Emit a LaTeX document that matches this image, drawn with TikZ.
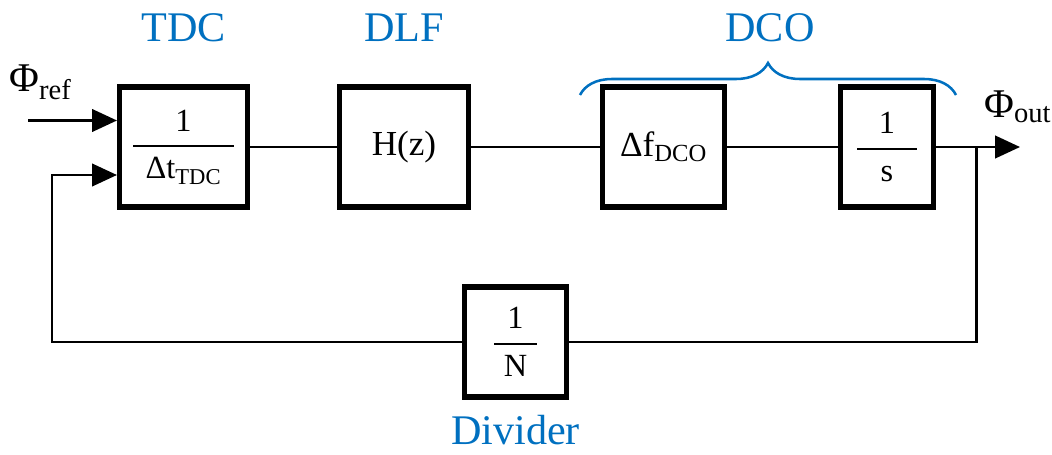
\documentclass[tikz,border=0pt]{standalone}
\usepackage{amsmath}
\usepackage{fontspec}
\setmainfont{Liberation Serif}
\usetikzlibrary{
  arrows.meta,
  positioning,
  calc,
  decorations.pathreplacing
}
\definecolor{pllBlue}{HTML}{0070C0}
% block fraction with fixed bar width
\newcommand{\blkfrac}[3]{$\genfrac{}{}{1.3pt}{0}{\hbox to #3{\hfil #1\hfil}}{\hbox to #3{\hfil #2\hfil}}$}
\tikzset{
  blk/.style={
    draw, line width=3.6pt, inner sep=0pt, align=center,
    font=\fontsize{25}{30}\selectfont
  },
  fracblk/.style={blk, font=\fontsize{23}{28}\selectfont},
  sig/.style={line width=1.8pt, black},
  sigarrow/.style={sig, -{Triangle[length=0.62cm, width=0.56cm]}},
  blklabel/.style={text=pllBlue, font=\fontsize{30}{36}\selectfont, inner sep=0pt},
  phase/.style={font=\fontsize{29}{34}\selectfont, inner sep=0pt},
  dcobrace/.style={decorate, decoration={brace, amplitude=0.8cm}, draw=pllBlue, line width=1.8pt}
}

\begin{document}
\begin{tikzpicture}[x=0.025cm, y=-0.025cm]
  \useasboundingbox (0,0) rectangle (1052,454);

  % forward path blocks
  \node[fracblk, minimum width=3.2cm, minimum height=3.0cm] (tdc) at (183.5,147) {\blkfrac{1}{Δt\textsubscript{TDC}}{2.5cm}};
  \node[blk, minimum width=3.22cm, minimum height=3.0cm] (dlf) at (404,147) {H(z)};
  \node[blk, minimum width=3.03cm, minimum height=3.0cm] (dco) at (663.5,147) {Δf\textsubscript{DCO}};
  \node[fracblk, minimum width=2.33cm, minimum height=3.0cm] (integ) at (887,147) {\blkfrac{1}{s}{1.5cm}};

  % feedback divider
  \node[fracblk, minimum width=2.53cm, minimum height=2.75cm] (div) at (515.5,342) {\blkfrac{1}{N}{1.07cm}};

  % block labels
  \node[blklabel] (tdclbl) at (183.5,28) {TDC};
  \node[blklabel] (dlflbl) at (404,28) {DLF};
  \node[blklabel] (dcolbl) at (770,28) {DCO};
  \node[blklabel] (divlbl) at (515.5,430) {Divider};

  % phase labels
  \node[phase, anchor=base west] (phiref) at (9,91) {Φ\textsubscript{ref}};
  \node[phase, anchor=base west] (phiout) at (984,117) {Φ\textsubscript{out}};

  % connections
  \coordinate (refin) at (28,120.5);
  \coordinate (out) at (1020,147);
  \coordinate (tap) at (976.5,147);
  \coordinate (fbl) at (52,342);
  \draw[sigarrow] (refin) -- (refin -| tdc.west);
  \draw[sig] (tdc.east) -- (dlf.west);
  \draw[sig] (dlf.east) -- (dco.west);
  \draw[sig] (dco.east) -- (integ.west);
  \draw[sigarrow] (integ.east) -- (out);
  \draw[sig] (tap) |- (div.east);
  \draw[sigarrow] (div.west) -- (fbl) |- ($(tdc.west)+(0,28)$);

  % DCO brace
  \draw[dcobrace] (580,95) -- (956,95);
\end{tikzpicture}
\end{document}
